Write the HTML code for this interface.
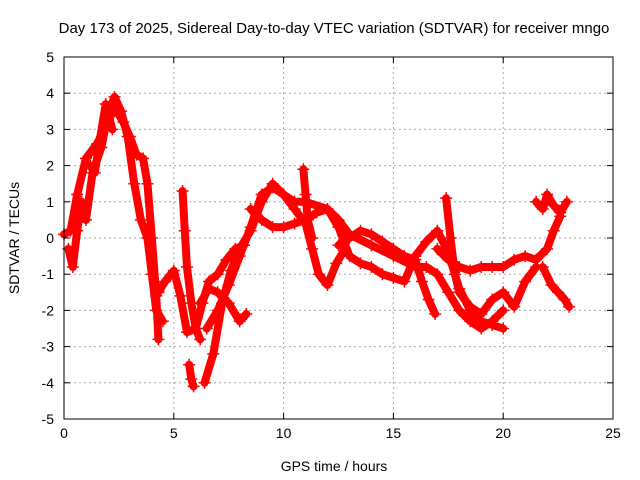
<!DOCTYPE html>
<html><head><meta charset="utf-8"><style>
body{margin:0;background:#fff;}
svg{display:block;font-family:"Liberation Sans",sans-serif;}
</style></head><body>
<svg id="chart" width="640" height="480">
<rect width="640" height="480" fill="#fff"/>
<text x="334" y="33" font-size="15" text-anchor="middle">Day 173 of 2025, Sidereal Day-to-day VTEC variation (SDTVAR) for receiver mngo</text>
<text x="334" y="471" font-size="14" text-anchor="middle">GPS time / hours</text>
<text transform="translate(19,238) rotate(-90)" font-size="14" text-anchor="middle">SDTVAR / TECUs</text>
<g id="grid"></g><g id="marks"></g><g id="axes"></g>
</svg>
<script>
const xTicks=[0,5,10,15,20,25];
const yTicks=[-5,-4,-3,-2,-1,0,1,2,3,4,5];
const trackA_t=[0,0.3,0.6,1,1.5,2,2.3,2.7,3,3.3,3.6,3.8,4,4.2,4.3];
const trackA_v=[0.1,0.2,1.2,2.2,2.6,3.2,3.6,3.2,2.8,2.3,2.2,1.5,0,-1.6,-2.8];
const trackB_t=[0.2,0.4,0.6,0.8,1,1.3,1.7,2,2.3,2.6,2.9,3.2,3.5,3.8,4,4.2,4.5];
const trackB_v=[-0.3,-0.8,0.2,1,0.5,1.8,2.5,3.4,3.9,3.5,2.8,1.5,0.5,0,-1,-2,-2.3];
const trackC_t=[1.2,1.4,1.6,1.9,2.2];
const trackC_v=[2.0,1.8,2.6,3.7,3.0];
const trackD_t=[4.3,4.6,5,5.3,5.6,6,6.3,6.6,7,7.4,7.8,8.2];
const trackD_v=[-1.5,-1.2,-0.9,-1.6,-2.6,-2.5,-1.8,-1.2,-1,-0.6,-0.3,-0.2];
const trackE_t=[5.4,5.5,5.6,5.8,6,6.2];
const trackE_v=[1.3,0.2,-0.8,-1.8,-2.5,-2.8];
const trackF_t=[5.7,5.8,5.9];
const trackF_v=[-3.5,-3.9,-4.1];
const trackG_t=[6.4,6.8,7.2,7.6,8,8.5,9,9.5,10,10.5,11,11.3,11.6,12,12.4,12.8];
const trackG_v=[-4,-3.2,-1.8,-0.9,-0.3,0.2,1,1.5,1.2,0.8,0.4,-0.3,-1,-1.3,-0.7,-0.3];
const trackH_t=[6.2,6.6,7,7.5,8,8.3];
const trackH_v=[-1.8,-1.4,-1.5,-1.8,-2.3,-2.1];
const trackI_t=[6.5,7,7.5,8,8.5,9,9.5,10,10.5,11,12,12.5,13,14,15,16,16.5,17,17.5,18,18.5,19,19.5,20];
const trackI_v=[-2.5,-2,-1.3,-0.5,0.3,1.2,1.4,1.2,1,1,0.8,0.5,0.1,-0.2,-0.5,-0.8,-0.8,-1,-1.5,-2,-2.3,-2.5,-2.3,-2];
const trackJ_t=[8.5,9,9.5,10,10.5,11,11.5,12,12.5,13,13.5,14,14.5,15,15.5,16,16.5,17,17.5,18,18.5,19,19.5,20];
const trackJ_v=[0.8,0.5,0.3,0.3,0.4,0.5,0.7,0.8,0.3,-0.5,-0.7,-0.8,-1,-1.1,-1.2,-0.5,-0.1,0.2,-0.4,-1.4,-2,-2.3,-2.4,-2.5];
const trackK_t=[12.5,13,13.5,14,14.5,15,15.5,16,16.3,16.6,16.9];
const trackK_v=[-0.2,0,0.2,0.1,-0.1,-0.3,-0.5,-0.6,-1.2,-1.7,-2.1];
const trackL_t=[17,17.5,18,18.5,19,19.5,20,20.5,21,21.5,22,22.3,22.6];
const trackL_v=[-0.3,-0.6,-0.8,-0.9,-0.8,-0.8,-0.8,-0.6,-0.5,-0.6,-0.3,0.2,0.6];
const trackM_t=[18,18.5,19,19.5,20,20.5,21,21.5];
const trackM_v=[-1.5,-1.9,-2.1,-1.7,-1.5,-1.9,-1.2,-0.8];
const trackN_t=[21.5,21.8,22,22.3,22.6,22.9];
const trackN_v=[1,0.8,1.2,0.9,0.7,1];
const trackO_t=[21.8,22.2,22.5,22.8,23];
const trackO_v=[-0.8,-1.3,-1.5,-1.7,-1.9];
const trackP_t=[17.4,17.6,17.8,18];
const trackP_v=[1.1,0,-1,-1.5];
const trackQ_t=[10.9,11,11.1,11.3];
const trackQ_v=[1.9,1.2,0.5,0];
const tracks=[[trackA_t,trackA_v],[trackB_t,trackB_v],[trackC_t,trackC_v],[trackD_t,trackD_v],[trackE_t,trackE_v],[trackF_t,trackF_v],[trackG_t,trackG_v],[trackH_t,trackH_v],[trackI_t,trackI_v],[trackJ_t,trackJ_v],[trackK_t,trackK_v],[trackL_t,trackL_v],[trackM_t,trackM_v],[trackN_t,trackN_v],[trackO_t,trackO_v],[trackP_t,trackP_v],[trackQ_t,trackQ_v]];
const X0=64,X1=613,Y0=419,Y1=57;
const sx=t=>X0+(t-0)/(25-0)*(X1-X0);
const sy=v=>Y0-(v+5)/10*(Y0-Y1);
const NS='http://www.w3.org/2000/svg';
function mk(tag,attrs,parent){const e=document.createElementNS(NS,tag);for(const k in attrs)e.setAttribute(k,attrs[k]);parent.appendChild(e);return e;}
const grid=document.getElementById('grid'),axes=document.getElementById('axes'),marks=document.getElementById('marks');
mk('rect',{x:X0,y:Y1,width:X1-X0,height:Y0-Y1,fill:'none',stroke:'#000','stroke-width':1},axes);
xTicks.forEach(t=>{
  const x=sx(t);
  if(t>0&&t<25){const g=mk('line',{x1:x,x2:x,y1:Y1,y2:Y0,stroke:'#aaa','stroke-dasharray':'2,3'},grid);
  
  }
  mk('line',{x1:x,x2:x,y1:Y0,y2:Y0-6,stroke:'#000'},axes);
  mk('line',{x1:x,x2:x,y1:Y1,y2:Y1+6,stroke:'#000'},axes);
  const l=mk('text',{x:x,y:Y0+19,'font-size':14,'text-anchor':'middle'},axes);l.textContent=t;
  
  
});
yTicks.forEach(v=>{
  const y=sy(v);
  if(v>-5&&v<5){const g=mk('line',{x1:X0,x2:X1,y1:y,y2:y,stroke:'#aaa','stroke-dasharray':'2,3'},grid);
  
  }
  mk('line',{x1:X0,x2:X0+6,y1:y,y2:y,stroke:'#000'},axes);
  mk('line',{x1:X1,x2:X1-6,y1:y,y2:y,stroke:'#000'},axes);
  const l=mk('text',{x:X0-10,y:y+5,'font-size':14,'text-anchor':'end'},axes);l.textContent=v;
  
  
});
tracks.forEach(([ts,vs],i)=>{
  const pts=ts.map((t,j)=>sx(t)+','+sy(vs[j])).join(' ');
  const pl=mk('polyline',{points:pts,fill:'none',stroke:'#f00','stroke-width':8,'stroke-linejoin':'round','stroke-linecap':'round'},marks);
  
  
  ts.forEach((t,j)=>{
    const x=sx(t),y=sy(vs[j]);
    const p=mk('path',{d:`M${x-6},${y}H${x+6}M${x},${y-6}V${y+6}`,stroke:'#f00','stroke-width':1.5},marks);
    
    
  });
});
</script>
</body></html>
